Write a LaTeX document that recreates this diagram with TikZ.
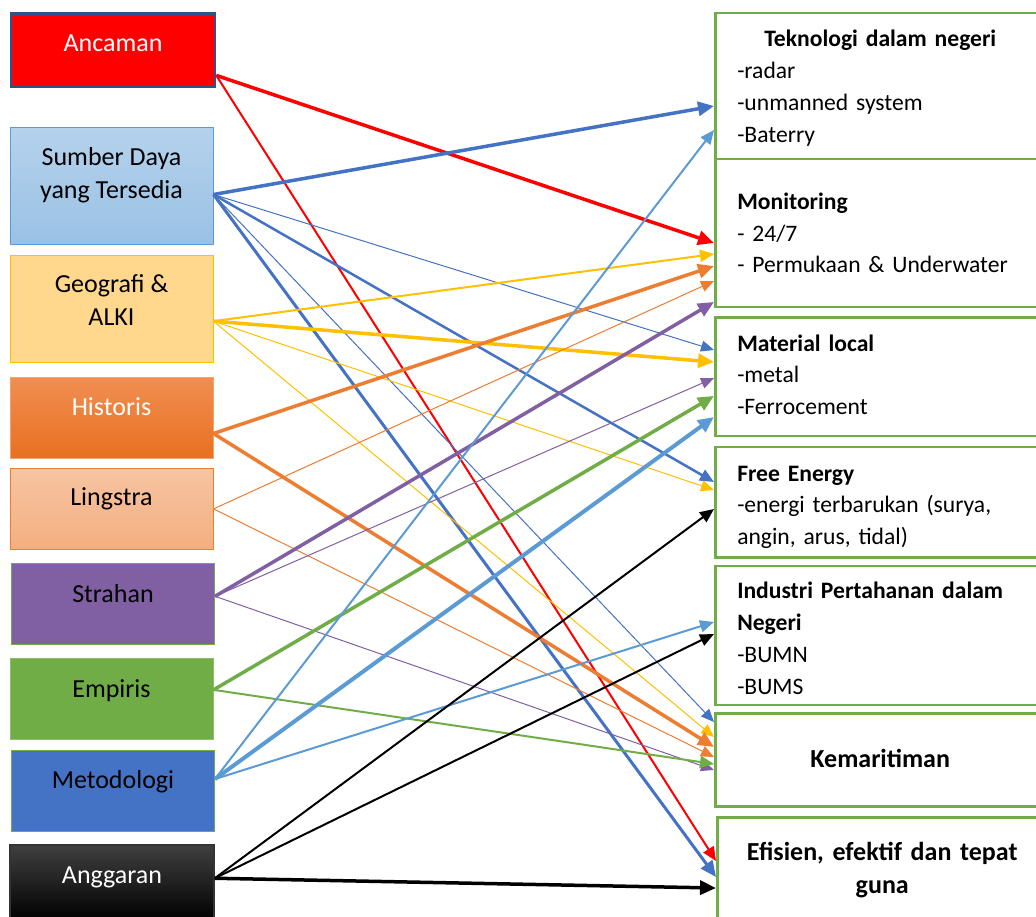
\documentclass[tikz,border=0pt]{standalone}
\usepackage{fontspec}
\setmainfont{Carlito}
\usetikzlibrary{arrows.meta}
\definecolor{cred}{RGB}{255,0,0}
\definecolor{cdkblue}{RGB}{47,82,143}
\definecolor{cblue}{RGB}{68,114,196}
\definecolor{cltblue}{RGB}{91,155,213}
\definecolor{cyel}{RGB}{255,192,0}
\definecolor{corange}{RGB}{237,125,49}
\definecolor{cpurple}{RGB}{128,96,162}
\definecolor{cgreen}{RGB}{112,173,71}
\definecolor{cgeo}{RGB}{255,216,142}
\definecolor{chistop}{RGB}{241,142,82}
\definecolor{chisbot}{RGB}{232,112,32}
\tikzset{
  lbox/.style={draw, line width=1.5pt, inner xsep=0pt, inner ysep=0pt, anchor=north,
               minimum width=203pt, align=center, font=\fontsize{26}{32.5}\selectfont},
  rbox/.style={draw=cgreen, line width=2.5pt, anchor=north west, inner xsep=22pt, inner ysep=0pt,
               text width=286pt, align=left, font=\fontsize{23.6}{31.7}\selectfont},
  ttl/.style={font=\fontsize{26}{33}\selectfont\bfseries, align=center},
  thn/.style={line width=1pt, -{Triangle[length=13pt,width=11pt]}},
  med/.style={line width=2pt, -{Triangle[length=14pt,width=12pt]}},
  thk/.style={line width=3.5pt, -{Triangle[length=16pt,width=14pt]}},
}
\newcommand{\hd}[1]{\makebox[\linewidth]{\textbf{#1}}}
\begin{document}
\begin{tikzpicture}[x=1pt,y=1pt]
  \useasboundingbox[fill=white] (0,0) rectangle (1036,-917);
  % left side
  \node[lbox, fill=cred, draw=cdkblue, line width=2.5pt, text=white, minimum width=204pt,
        text height=37.7pt, text depth=36pt] (anc) at (113,-12.3) {Ancaman};
  \node[lbox, top color=cltblue!45, bottom color=cltblue!62, draw=cltblue, line width=1pt,
        text height=71.3pt, text depth=46.3pt] (sdt) at (111.5,-126.7) {Sumber Daya\\yang Tersedia};
  \node[lbox, fill=cgeo, draw=cyel, line width=1pt,
        text height=70pt, text depth=37.3pt] (geo) at (111.5,-255) {Geografi \&\\ALKI};
  \node[lbox, top color=chistop, bottom color=chisbot, draw=corange!70, line width=1pt, text=white,
        text height=38.3pt, text depth=43.3pt] (his) at (111.5,-376.7) {Historis};
  \node[lbox, top color=corange!45, bottom color=corange!62, draw=corange, line width=1pt,
        text height=37.3pt, text depth=44pt] (lin) at (111.5,-467.7) {Lingstra};
  \node[lbox, fill=cpurple, draw=cgreen, line width=1pt,
        text height=38.4pt, text depth=42.6pt] (str) at (113,-563.3) {Strahan};
  \node[lbox, fill=cgreen, draw=cgreen!80, line width=1pt,
        text height=39pt, text depth=42.3pt] (emp) at (111.5,-657.7) {Empiris};
  \node[lbox, fill=cblue, draw=cgreen, line width=1pt,
        text height=38.3pt, text depth=42.7pt] (met) at (113,-750) {Metodologi};
  \node[lbox, top color=black!75, bottom color=black, draw=black!80, line width=1.5pt, text=white, minimum width=204pt,
        text height=38.4pt, text depth=37pt] (ang) at (112,-844.3) {Anggaran};
  % right side
  \node[rbox, text height=33.7pt, text depth=112.3pt] (tek) at (714,-12)
    {\hd{Teknologi dalam negeri}\\-radar\\-unmanned system\\-Baterry};
  \node[rbox, text height=50.3pt, text depth=97.7pt] (mon) at (714,-158)
    {\textbf{Monitoring}\\- 24/7\\- Permukaan \& Underwater};
  \node[rbox, text height=33.5pt, text depth=84.5pt] (mat) at (714,-316.5)
    {\textbf{Material local}\\-metal\\-Ferrocement};
  \node[rbox, text height=34.5pt, text depth=76pt] (fre) at (714,-445.5)
    {\textbf{Free Energy}\\-energi terbarukan (surya,\\angin, arus, tidal)};
  \node[rbox, text height=33.2pt, text depth=105.8pt] (ind) at (714,-564.5)
    {\textbf{Industri Pertahanan dalam}\\\textbf{Negeri}\\-BUMN\\-BUMS};
  \node[rbox, ttl, text height=54.7pt, text depth=38.3pt] (kem) at (714,-712) {Kemaritiman};
  \node[rbox, ttl, text height=43.3pt, text depth=75pt] (efi) at (716,-816)
    {Efisien, efektif dan tepat\\guna};
  % arrows
  \draw[thk, cred] ([yshift=-25pt]anc.east) -- ([yshift=-85pt]mon.north west);
  \draw[med, cred] ([yshift=-25pt]anc.east) -- ([yshift=-45pt]efi.north west);
  \draw[thk, cblue] ([yshift=-8.5pt]sdt.east) -- ([yshift=-94pt]tek.north west);
  \draw[thn, cblue] ([yshift=-8.5pt]sdt.east) -- ([yshift=-33.5pt]mat.north west);
  \draw[med, cblue, line width=2.5pt] ([yshift=-8.5pt]sdt.east) -- ([yshift=-36.5pt]fre.north west);
  \draw[thn, cblue] ([yshift=-8.5pt]sdt.east) -- ([yshift=-10pt]kem.north west);
  \draw[thk, cblue, line width=3pt] ([yshift=-8.5pt]sdt.east) -- ([yshift=-61pt]efi.north west);
  \draw[med, cyel] ([yshift=-12pt]geo.east) -- ([yshift=-96pt]mon.north west);
  \draw[thk, cyel] ([yshift=-12pt]geo.east) -- ([yshift=-45.5pt]mat.north west);
  \draw[thn, cyel] ([yshift=-12pt]geo.east) -- ([yshift=-44.5pt]fre.north west);
  \draw[thn, cyel] ([yshift=-12pt]geo.east) -- ([yshift=-25pt]kem.north west);
  \draw[thk, corange] ([yshift=-15.5pt]his.east) -- ([yshift=-108pt]mon.north west);
  \draw[thk, corange] ([yshift=-15.5pt]his.east) -- ([yshift=-35pt]kem.north west);
  \draw[thn, corange] (lin.east) -- ([yshift=-123pt]mon.north west);
  \draw[thn, corange] (lin.east) -- ([yshift=-45pt]kem.north west);
  \draw[thk, cpurple] ([yshift=8pt]str.east) -- ([yshift=-144pt]mon.north west);
  \draw[thn, cpurple] ([yshift=8pt]str.east) -- ([yshift=-61.5pt]mat.north west);
  \draw[thn, cpurple] ([yshift=8pt]str.east) -- ([yshift=-58pt]kem.north west);
  \draw[thk, cgreen] ([yshift=9pt]emp.east) -- ([yshift=-79.5pt]mat.north west);
  \draw[med, cgreen] ([yshift=9pt]emp.east) -- ([yshift=-52pt]kem.north west);
  \draw[med, cltblue] ([yshift=12pt]met.east) -- ([yshift=-118pt]tek.north west);
  \draw[thk, cltblue, line width=4pt] ([yshift=12pt]met.east) -- ([yshift=-100.5pt]mat.north west);
  \draw[med, cltblue] ([yshift=12pt]met.east) -- ([yshift=-57.5pt]ind.north west);
  \draw[med, black] ([yshift=4.5pt]ang.east) -- ([yshift=-63.5pt]fre.north west);
  \draw[med, black] ([yshift=4.5pt]ang.east) -- ([yshift=-69.5pt]ind.north west);
  \draw[thk, black] ([yshift=4.5pt]ang.east) -- ([yshift=-72pt]efi.north west);
\end{tikzpicture}
\end{document}
